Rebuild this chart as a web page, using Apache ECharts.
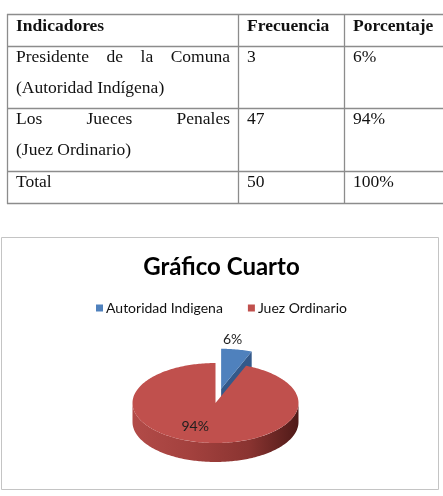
<!DOCTYPE html>
<html><head><meta charset="utf-8">
<script src="https://cdn.jsdelivr.net/npm/echarts@6/dist/echarts.min.js"></script>
<style>html,body{margin:0;padding:0;background:#fff;overflow:hidden}#c{width:443px;height:496px}</style>
</head><body><div id="c"></div>
<script>
// ---- data ----
const tableHeaders = ['Indicadores', 'Frecuencia', 'Porcentaje'];
const indicadorLines = [['Presidente de la Comuna', '(Autoridad Indígena)'], ['Los Jueces Penales', '(Juez Ordinario)'], ['Total']];
const frecuencias = [3, 47, 50];
const porcentajes = ['6%', '94%', '100%'];
const chartTitle = 'Gráfico Cuarto';
const categories = ['Autoridad Indigena', 'Juez Ordinario'];
const values = [3, 47];
const colors = ['#4f81bd', '#c0504d'];

// ---- layout ----
const TF = 17.5, SERIF = 'Liberation Serif';
const rowLines = [14, 46, 108, 171, 203];
const colLines = [7, 238, 344];
const colText = [16, 247, 353];
const headerBase = 32.3;
const rowBases = [[63.3, 94.6], [125, 156.5], [188.3]];
const P = {cx: 215.5, cy: 403, rx: 83, ry: 40, depth: 19};
const explode = [30, 0];
const labelSpec = [{r: 1.0, dx: -4, dy: -10}, {r: 0.6, dx: -11, dy: 0}];

const mctx = document.createElement('canvas').getContext('2d');
function measure(t, font) { mctx.font = font; return mctx.measureText(t).width; }
function textEl(t, x, base, bold) {
  return {type: 'text', silent: true, style: {text: t, x: x, y: base - 0.33 * TF, fill: '#111',
    font: (bold ? 'bold ' : '') + TF + 'px "' + SERIF + '"', align: 'left', verticalAlign: 'middle'}};
}
function justified(t, x0, x1, base) {
  const words = t.split(' ');
  const font = TF + 'px "' + SERIF + '"';
  const ws = words.map(w => measure(w, font));
  const sum = ws.reduce((a, b) => a + b, 0);
  const gap = words.length > 1 ? (x1 - x0 - sum) / (words.length - 1) : 0;
  let x = x0; const out = [];
  words.forEach((w, i) => { out.push(textEl(w, x, base, false)); x += ws[i] + gap; });
  return out;
}

const graphics = [];
// chart frame
graphics.push({type: 'rect', silent: true, shape: {x: 1.5, y: 237.5, width: 437, height: 252}, style: {fill: 'none', stroke: '#c4c4c4', lineWidth: 1}});
// table lines
rowLines.forEach(y => graphics.push({type: 'line', silent: true, shape: {x1: colLines[0], y1: y + 0.5, x2: 460, y2: y + 0.5}, style: {stroke: '#8c8c8c', lineWidth: 1.3}}));
colLines.forEach(x => graphics.push({type: 'line', silent: true, shape: {x1: x + 0.5, y1: rowLines[0], x2: x + 0.5, y2: rowLines[rowLines.length - 1] + 1}, style: {stroke: '#8c8c8c', lineWidth: 1.3}}));
// header
tableHeaders.forEach((h, i) => graphics.push(textEl(h, colText[i], headerBase, true)));
// rows
indicadorLines.forEach((lines, r) => {
  lines.forEach((ln, k) => {
    if (lines.length > 1 && k === 0) justified(ln, colText[0], 230, rowBases[r][k]).forEach(e => graphics.push(e));
    else graphics.push(textEl(ln, colText[0], rowBases[r][k], false));
  });
  graphics.push(textEl(String(frecuencias[r]), colText[1], rowBases[r][0], false));
  graphics.push(textEl(porcentajes[r], colText[2], rowBases[r][0], false));
});

const total = values.reduce((a, b) => a + b, 0);
const starts = values.map((v, i) => values.slice(0, i).reduce((a, b) => a + b, 0));
const sideShade = [
  [{offset: 0, color: '#3f6a9c'}, {offset: 1, color: '#2f4f78'}],
  [{offset: 0, color: '#b24b48'}, {offset: 0.35, color: '#a3413e'}, {offset: 0.7, color: '#8a3431'}, {offset: 1, color: '#4f1a18'}]
];
const wallColor = ['#34598a', '#8a3431'];

function makeRender(idx) {
  return function (params, api) {
    const s = api.value(0), v = api.value(1), t = api.value(2);
    const a0 = s / t * 2 * Math.PI, a1 = (s + v) / t * 2 * Math.PI, am = (a0 + a1) / 2;
    const ex = explode[idx];
    const cx = P.cx + ex * Math.sin(am), cy = P.cy - ex * Math.cos(am) * P.ry / P.rx;
    const D = P.depth;
    const pt = (a, d, f) => [cx + (f || 1) * P.rx * Math.sin(a), cy - (f || 1) * P.ry * Math.cos(a) + (d || 0)];
    const arc = (a, b, d) => { const n = Math.max(2, Math.ceil((b - a) / 0.02)); const o = []; for (let i = 0; i <= n; i++) o.push(pt(a + (b - a) * i / n, d)); return o; };
    const children = [];
    if (Math.sin(a1) > 1e-3) children.push({type: 'polygon', shape: {points: [[cx, cy], pt(a1), pt(a1, D), [cx, cy + D]]}, style: {fill: wallColor[idx]}});
    if (Math.sin(a0) < -1e-3) children.push({type: 'polygon', shape: {points: [[cx, cy], pt(a0), pt(a0, D), [cx, cy + D]]}, style: {fill: wallColor[idx]}});
    const l = Math.max(a0, Math.PI / 2), r = Math.min(a1, 1.5 * Math.PI);
    if (r > l) {
      const pts = arc(l, r, 0).concat(arc(l, r, D).reverse());
      children.push({type: 'polygon', shape: {points: pts}, style: {fill: {type: 'linear', x: cx - P.rx, y: 0, x2: cx + P.rx, y2: 0, global: true, colorStops: sideShade[idx]}}});
    }
    children.push({type: 'polygon', shape: {points: [[cx, cy]].concat(arc(a0, a1, 0))}, style: {fill: colors[idx]}});
    const ls = labelSpec[idx];
    const lp = pt(am, 0, ls.r);
    children.push({type: 'text', style: {text: Math.round(v / t * 100) + '%', x: lp[0] + ls.dx, y: lp[1] + ls.dy, align: 'center', verticalAlign: 'middle', fill: '#1e1e1e', font: '14px Lato'}});
    return {type: 'group', children: children};
  };
}

const series = categories.map((name, i) => ({
  type: 'custom', name: name, coordinateSystem: 'none', silent: true,
  itemStyle: {color: colors[i]},
  data: [[starts[i], values[i], total]],
  renderItem: makeRender(i), z: 2 + i
}));

const chart = echarts.init(document.getElementById('c'));
chart.setOption({
  animation: false,
  backgroundColor: '#fff',
  title: {text: chartTitle, left: 'center', top: 250, textStyle: {fontFamily: 'Lato', fontWeight: 'bold', fontSize: 24, color: '#000'}},
  legend: {data: categories, top: 296, left: 'center', icon: 'rect', itemWidth: 7, itemHeight: 7, itemGap: 25,
    textStyle: {fontFamily: 'Lato', fontSize: 14, color: '#111', padding: [0, 0, 0, -2]}},
  graphic: graphics,
  series: series
});
</script></body></html>
